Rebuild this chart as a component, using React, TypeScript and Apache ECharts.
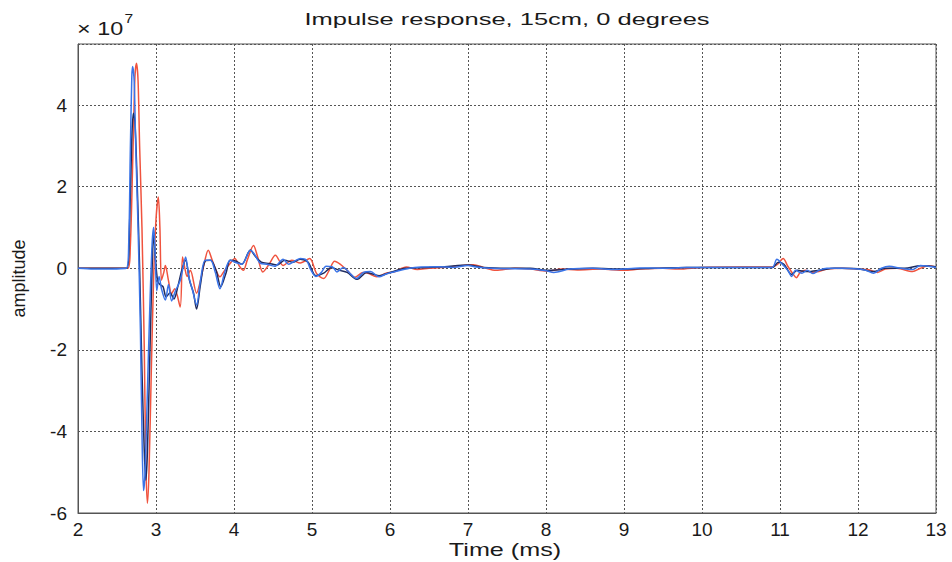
import React, { useEffect, useRef } from "react";
import * as echarts from "echarts";

const titleText = "Impulse response, 15cm, 0 degrees";
const xName = "Time (ms)";
const yName = "amplitude";
const xTicks = [2, 3, 4, 5, 6, 7, 8, 9, 10, 11, 12, 13];
const yTicks = [-6, -4, -2, 0, 2, 4];

// amplitude in units of 1e7
const redT = [2.0, 2.64, 2.67, 2.70, 2.73, 2.75, 2.77, 2.79, 2.82, 2.85, 2.87, 2.89, 2.91, 2.94, 2.97, 3.00, 3.03, 3.05, 3.07, 3.10, 3.12, 3.16, 3.20, 3.24, 3.31, 3.34, 3.37, 3.40, 3.44, 3.52, 3.57, 3.61, 3.67, 3.72, 3.76, 3.82, 3.88, 3.95, 4.01, 4.07, 4.12, 4.17, 4.25, 4.30, 4.37, 4.45, 4.53, 4.63, 4.74, 4.85, 4.97, 5.06, 5.15, 5.22, 5.29, 5.36, 5.45, 5.55, 5.65, 5.72, 5.83, 5.95, 6.05, 6.21, 6.35, 6.5, 6.75, 7.07, 7.2, 7.36, 7.6, 7.8, 8.01, 8.2, 8.4, 8.7, 9.0, 9.2, 9.5, 9.7, 10.0, 10.5, 10.9, 10.97, 11.04, 11.1, 11.16, 11.21, 11.26, 11.33, 11.4, 11.5, 11.6, 11.8, 12.0, 12.15, 12.25, 12.35, 12.5, 12.7, 12.8, 12.9, 13.0];
const redV = [0, 0, 0.5, 2.5, 4.7, 5.03, 4.6, 3.0, 1.0, -2.0, -4.8, -5.76, -5.0, -2.5, -0.2, 1.2, 1.75, 1.0, -0.29, -0.1, 0.07, -0.3, -0.62, -0.5, -0.95, 0.28, 0.0, -0.2, -0.05, -0.61, -0.3, 0.05, 0.44, 0.2, 0.0, -0.21, -0.05, 0.12, 0.24, 0.05, -0.05, 0.2, 0.56, 0.3, -0.09, 0.1, 0.32, 0.07, 0.2, 0.13, 0.24, -0.13, -0.25, -0.05, 0.17, 0.1, -0.05, -0.22, -0.1, -0.12, -0.21, -0.12, -0.09, 0.03, -0.03, 0.0, 0.03, 0.09, 0.02, -0.05, 0.0, -0.02, -0.07, -0.02, -0.04, -0.02, -0.05, -0.02, 0.0, -0.02, 0.02, 0.03, 0.03, 0.1, 0.24, 0.05, -0.12, -0.23, -0.1, -0.05, -0.1, -0.08, -0.02, 0.0, -0.02, -0.04, -0.1, -0.02, 0.0, -0.08, 0.0, 0.06, 0.03];

const blueT = [2.0, 2.2, 2.62, 2.65, 2.67, 2.69, 2.70, 2.72, 2.74, 2.77, 2.80, 2.82, 2.84, 2.86, 2.89, 2.92, 2.95, 2.97, 2.99, 3.01, 3.04, 3.07, 3.12, 3.16, 3.20, 3.25, 3.31, 3.35, 3.38, 3.42, 3.47, 3.52, 3.57, 3.63, 3.70, 3.76, 3.82, 3.88, 3.95, 4.01, 4.10, 4.21, 4.26, 4.34, 4.42, 4.52, 4.63, 4.70, 4.78, 4.85, 4.93, 4.98, 5.05, 5.12, 5.18, 5.26, 5.32, 5.40, 5.50, 5.57, 5.66, 5.75, 5.86, 5.95, 6.05, 6.25, 6.4, 6.62, 6.8, 7.0, 7.1, 7.3, 7.5, 7.8, 8.0, 8.1, 8.3, 8.6, 8.9, 9.2, 9.5, 9.8, 10.2, 10.6, 10.9, 10.96, 11.02, 11.1, 11.15, 11.2, 11.28, 11.35, 11.42, 11.5, 11.6, 11.8, 12.0, 12.1, 12.2, 12.3, 12.4, 12.55, 12.7, 12.8, 12.9, 13.0];
const blueV = [0, -0.02, 0, 0.6, 2.8, 4.7, 4.95, 4.6, 3.0, 1.0, -1.5, -4.0, -5.45, -5.0, -3.0, -1.0, 0.6, 1.0, 0.3, -0.55, -0.2, -0.5, -0.78, -0.4, -0.8, -0.55, -0.3, 0.05, 0.28, -0.2, -0.55, -0.9, -0.3, 0.2, 0.2, -0.1, -0.5, -0.1, 0.2, 0.15, 0.1, 0.44, 0.35, 0.12, 0.1, 0.05, 0.22, 0.1, 0.18, 0.24, 0.2, -0.02, -0.2, -0.1, 0.05, 0.04, -0.09, 0.02, -0.15, -0.25, -0.1, -0.08, -0.21, -0.14, -0.09, 0.0, 0.03, 0.04, 0.02, 0.07, 0.03, 0.0, -0.01, -0.02, -0.06, -0.1, -0.02, 0.0, -0.03, 0.01, 0.0, 0.02, 0.02, 0.02, 0.02, 0.22, 0.12, -0.05, -0.2, -0.05, -0.12, -0.05, -0.13, -0.05, 0.0, 0.0, -0.02, -0.05, -0.12, 0.0, 0.05, 0.0, -0.03, 0.07, 0.05, 0.02];

const darkT = [2.0, 2.63, 2.66, 2.69, 2.71, 2.73, 2.76, 2.79, 2.82, 2.85, 2.87, 2.89, 2.92, 2.95, 2.97, 2.99, 3.02, 3.05, 3.09, 3.13, 3.18, 3.23, 3.28, 3.33, 3.38, 3.43, 3.48, 3.52, 3.57, 3.63, 3.70, 3.77, 3.83, 3.9, 3.95, 4.02, 4.1, 4.21, 4.27, 4.35, 4.45, 4.55, 4.65, 4.75, 4.85, 4.95, 5.05, 5.15, 5.25, 5.35, 5.45, 5.58, 5.7, 5.86, 6.0, 6.2, 6.5, 6.7, 7.0, 7.2, 7.5, 7.8, 8.0, 8.3, 8.6, 9.0, 9.4, 9.8, 10.3, 10.9, 10.98, 11.05, 11.15, 11.22, 11.35, 11.5, 11.7, 12.0, 12.2, 12.35, 12.6, 12.8, 13.0];
const darkV = [0, 0, 1.0, 3.2, 3.8, 3.6, 2.0, 0.0, -2.5, -4.5, -5.2, -4.5, -2.2, 0.0, 0.9, 0.3, -0.3, -0.4, -0.45, -0.7, -0.6, -0.75, -0.45, -0.05, 0.2, -0.3, -0.6, -1.0, -0.4, 0.18, 0.2, -0.05, -0.45, -0.1, 0.2, 0.18, 0.1, 0.45, 0.3, 0.15, 0.12, 0.08, 0.2, 0.15, 0.22, 0.15, -0.18, -0.12, 0.02, -0.05, -0.1, -0.27, -0.1, -0.18, -0.1, 0.0, 0.02, 0.04, 0.08, 0.02, 0.0, 0.0, -0.05, -0.02, 0.0, -0.02, 0.0, 0.02, 0.02, 0.02, 0.15, 0.1, -0.15, -0.05, -0.08, -0.05, 0.0, -0.01, -0.08, 0.0, 0.0, 0.06, 0.04];

const zip = (t: number[], v: number[]) => t.map((x, i) => [x, v[i]]);

const FONT = "'Liberation Sans', Arial, Helvetica, sans-serif";
const INK = "#1a1a1a";

export default function App() {
  const ref = useRef<HTMLDivElement>(null);
  useEffect(() => {
    if (!ref.current) return;
    const chart = echarts.init(ref.current, null, { renderer: "svg" });
    chart.setOption({
      animation: false,
      backgroundColor: "#ffffff",
      grid: {
        left: 78,
        right: 16,
        top: 44,
        bottom: 49,
        containLabel: false,
        outerBoundsMode: "none",
        show: true,
        borderColor: "#555",
        borderWidth: 1,
        backgroundColor: "transparent",
      },
      graphic: [
        {
          type: "text",
          x: 507,
          y: 19,
          scaleX: 1.5,
          style: {
            text: titleText,
            align: "center",
            verticalAlign: "middle",
            fontFamily: FONT,
            fontSize: 17,
            fill: INK,
          },
        },
        {
          type: "text",
          x: 505,
          y: 550,
          scaleX: 1.4,
          style: {
            text: xName,
            align: "center",
            verticalAlign: "middle",
            fontFamily: FONT,
            fontSize: 18,
            fill: INK,
          },
        },
        {
          type: "text",
          x: 77,
          y: 13,
          scaleX: 1.3,
          style: {
            text: "{a|× 10}{b|7}",
            rich: {
              a: { fontFamily: FONT, fontSize: 18, fill: INK, padding: [7, 0, 0, 0] },
              b: { fontFamily: FONT, fontSize: 12, fill: INK, verticalAlign: "top", padding: [0, 0, 10, 1] },
            },
          },
        },
      ],
      xAxis: {
        type: "value",
        min: xTicks[0],
        max: xTicks[xTicks.length - 1],
        interval: 1,
        axisLine: { show: true, onZero: false, lineStyle: { color: "#555", width: 1 } },
        axisTick: { show: false },
        axisLabel: { fontFamily: FONT, fontSize: 19, color: INK, margin: 7 },
        splitLine: { show: true, lineStyle: { type: [2, 2], color: "#555", width: 1 } },
      },
      yAxis: {
        type: "value",
        min: yTicks[0],
        max: 5.5,
        interval: 2,
        name: yName,
        nameLocation: "middle",
        nameRotate: 90,
        nameGap: 50,
        nameTextStyle: { fontFamily: FONT, fontSize: 18, color: INK },
        axisLine: { show: true, onZero: false, lineStyle: { color: "#555", width: 1 } },
        axisTick: { show: false },
        axisLabel: {
          fontFamily: FONT,
          fontSize: 19,
          color: INK,
          margin: 11,
          showMaxLabel: false,
          formatter: (v: number) => (yTicks.includes(v) ? String(v) : ""),
        },
        splitLine: { show: true, lineStyle: { type: [2, 2], color: "#555", width: 1 } },
      },
      series: [
        {
          name: "red",
          type: "line",
          data: zip(redT, redV),
          showSymbol: false,
          smooth: 0.3,
          lineStyle: { color: "#f0533e", width: 1.5 },
          z: 2,
        },
        {
          name: "dark",
          type: "line",
          data: zip(darkT, darkV),
          showSymbol: false,
          smooth: 0.3,
          lineStyle: { color: "#1f2b5e", width: 1.5 },
          z: 3,
        },
        {
          name: "blue",
          type: "line",
          data: zip(blueT, blueV),
          showSymbol: false,
          smooth: 0.3,
          lineStyle: { color: "#3a74e8", width: 1.5 },
          z: 4,
        },
      ],
    });
    return () => chart.dispose();
  }, []);
  return <div ref={ref} style={{ position: "fixed", left: 0, top: 0, width: 952, height: 562 }} />;
}
